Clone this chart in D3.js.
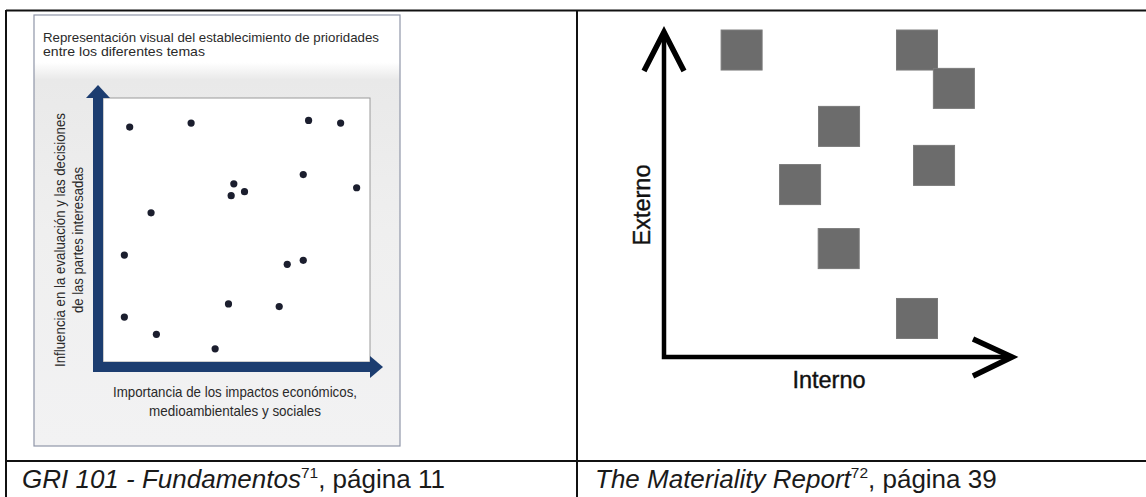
<!DOCTYPE html>
<html><head><meta charset="utf-8">
<script src="https://cdn.jsdelivr.net/npm/d3@7"></script>
<style>html,body{margin:0;padding:0;background:#fff;overflow:hidden} svg{display:block}</style>
</head><body>
<svg id="c" width="1146" height="497"></svg>
<script>
// ---- data: left chart (GRI 101) ----
const griImportance = [1.0, 3.3, 7.7, 8.9, 7.5, 9.5, 4.9, 4.8, 5.3, 1.8, 0.8, 7.5, 6.9, 4.7, 6.6, 0.8, 2.0, 4.2];
const griInfluence  = [8.9, 9.05, 9.15, 9.05, 7.1, 6.6, 6.75, 6.3, 6.45, 5.65, 4.05, 3.85, 3.7, 2.2, 2.1, 1.7, 1.05, 0.5];
const griTitle = ["Representación visual del establecimiento de prioridades", "entre los diferentes temas"];
const griXLabel = ["Importancia de los impactos económicos,", "medioambientales y sociales"];
const griYLabel = ["Influencia en la evaluación y las decisiones", "de las partes interesadas"];
// ---- data: right chart (Materiality Report) ----
const interno = [2.23, 7.27, 8.33, 5.03, 7.76, 3.91, 5.02, 7.27];
const externo = [9.43, 9.43, 8.25, 7.08, 5.88, 5.29, 3.32, 1.17];
const rightXLabel = "Interno";
const rightYLabel = "Externo";
// ---- captions ----
const captions = [
  {ital: "GRI 101 - Fundamentos", sup: "71", rest: ", página 11"},
  {ital: "The Materiality Report", sup: "72", rest: ", página 39"}
];

const svg = d3.select("#c");
const defs = svg.append("defs");
const g1 = defs.append("linearGradient").attr("id","panelBg").attr("x1",0).attr("y1",0).attr("x2",0).attr("y2",1);
g1.append("stop").attr("offset","0").attr("stop-color","#ffffff");
g1.append("stop").attr("offset","0.11").attr("stop-color","#ffffff");
g1.append("stop").attr("offset","0.15").attr("stop-color","#e9e9e9");
g1.append("stop").attr("offset","0.5").attr("stop-color","#efefef");
g1.append("stop").attr("offset","1").attr("stop-color","#f2f2f3");

// ---------- table frame ----------
const frame = svg.append("g").attr("stroke","#111").attr("stroke-width",2).attr("fill","none");
frame.append("line").attr("x1",6).attr("x2",1146).attr("y1",10.5).attr("y2",10.5);
frame.append("line").attr("x1",6).attr("x2",1146).attr("y1",461).attr("y2",461);
frame.append("line").attr("x1",6).attr("x2",6).attr("y1",10).attr("y2",497);
frame.append("line").attr("x1",577).attr("x2",577).attr("y1",10).attr("y2",497);

// ---------- left panel ----------
const panel = {x0:34, x1:400, y0:15, y1:446};
svg.append("rect").attr("x",panel.x0).attr("y",panel.y0)
  .attr("width",panel.x1-panel.x0).attr("height",panel.y1-panel.y0)
  .attr("fill","url(#panelBg)").attr("stroke","#8f96a8").attr("stroke-width",1.2);

const xL = d3.scaleLinear().domain([0,10]).range([103,370]);
const yL = d3.scaleLinear().domain([0,10]).range([362,98]);

// inner white plot box
svg.append("rect").attr("x",xL(0)).attr("y",yL(10))
  .attr("width",xL(10)-xL(0)).attr("height",yL(0)-yL(10))
  .attr("fill","#fff").attr("stroke","#9a9a9a").attr("stroke-width",1);

const navy = "#1c3d70";
// vertical blue arrow
svg.append("rect").attr("x",xL(0)-10).attr("y",yL(10)).attr("width",10).attr("height",yL(0)-yL(10)+10).attr("fill",navy);
svg.append("path").attr("fill",navy)
  .attr("d",`M${xL(0)-17},${yL(10)} L${xL(0)-5},${yL(10)-13} L${xL(0)+7},${yL(10)} Z`);
// horizontal blue arrow
svg.append("rect").attr("x",xL(0)-10).attr("y",yL(0)).attr("width",xL(10)-xL(0)+10).attr("height",10).attr("fill",navy);
svg.append("path").attr("fill",navy)
  .attr("d",`M${xL(10)},${yL(0)-6} L${xL(10)+13},${yL(0)+5} L${xL(10)},${yL(0)+16} Z`);

// dots
svg.append("g").selectAll("circle").data(griImportance).join("circle")
  .attr("cx",(d)=>xL(d)).attr("cy",(d,i)=>yL(griInfluence[i])).attr("r",3.6)
  .attr("fill","#1b1e2e");

const condensed = "'Liberation Sans Narrow', 'Liberation Sans', Arial, sans-serif";
// title
const tl = [336, 162];
svg.append("g").selectAll("text").data(griTitle).join("text")
  .attr("x",43).attr("y",(d,i)=>42+i*14)
  .attr("font-family",condensed).attr("font-size",13.5).attr("fill","#2a2a2a")
  .attr("textLength",(d,i)=>tl[i]).attr("lengthAdjust","spacingAndGlyphs")
  .text(d=>d);
// x label
const xl = [244, 172];
svg.append("g").selectAll("text").data(griXLabel).join("text")
  .attr("x",235).attr("y",(d,i)=>397+i*18.5).attr("text-anchor","middle")
  .attr("font-family",condensed).attr("font-size",14.5).attr("fill","#2a2a2a")
  .attr("textLength",(d,i)=>xl[i]).attr("lengthAdjust","spacingAndGlyphs")
  .text(d=>d);
// y label
const yl = [254, 146];
svg.append("g").selectAll("text").data(griYLabel).join("text")
  .attr("transform",(d,i)=>`translate(${65+i*18},240) rotate(-90)`)
  .attr("text-anchor","middle")
  .attr("font-family",condensed).attr("font-size",14.5).attr("fill","#2a2a2a")
  .attr("textLength",(d,i)=>yl[i]).attr("lengthAdjust","spacingAndGlyphs")
  .text(d=>d);

// ---------- right chart ----------
const xR = d3.scaleLinear().domain([0,10]).range([664,1012]);
const yR = d3.scaleLinear().domain([0,10]).range([357,32]);
const sq = 41;
svg.append("g").selectAll("rect").data(interno).join("rect")
  .attr("x",d=>xR(d)-sq/2).attr("y",(d,i)=>yR(externo[i])-sq/2)
  .attr("width",sq).attr("height",sq-1)
  .attr("fill","#6c6c6c").attr("stroke","#7a7a7a").attr("stroke-width",1);

const ax = svg.append("g").attr("stroke","#000").attr("fill","none").attr("stroke-linecap","butt");
ax.append("path").attr("stroke-width",4.5)
  .attr("d",`M${xR(0)},${yR(10)+3} L${xR(0)},${yR(0)} L${xR(10)-3},${yR(0)}`);
ax.append("path").attr("stroke-width",5.5).attr("stroke-linejoin","miter")
  .attr("d",`M${xR(0)-20},${yR(10)+39} L${xR(0)},${yR(10)} L${xR(0)+20},${yR(10)+39}`);
ax.append("path").attr("stroke-width",5.5).attr("stroke-linejoin","miter")
  .attr("d",`M${xR(10)-39},${yR(0)-18} L${xR(10)},${yR(0)} L${xR(10)-39},${yR(0)+19}`);

svg.append("text").attr("x",829).attr("y",388).attr("text-anchor","middle")
  .attr("font-family","'Liberation Sans', Arial, sans-serif").attr("font-size",23.5)
  .attr("fill","#111").attr("stroke","#111").attr("stroke-width",0.4).text(rightXLabel);
svg.append("text").attr("transform","translate(650,205) rotate(-90)").attr("text-anchor","middle")
  .attr("font-family","'Liberation Sans', Arial, sans-serif").attr("font-size",23.5)
  .attr("fill","#111").attr("stroke","#111").attr("stroke-width",0.4).text(rightYLabel);

// ---------- captions ----------
const capX = [22, 595];
captions.forEach((c,i)=>{
  const t = svg.append("text").attr("x",capX[i]).attr("y",488)
    .attr("font-family","'Liberation Sans', Arial, sans-serif").attr("font-size",26).attr("fill","#1a1a1a");
  t.append("tspan").attr("font-style","italic").text(c.ital);
  t.append("tspan").attr("font-size",15.5).attr("dy",-10).text(c.sup);
  t.append("tspan").attr("dy",10).text(c.rest);
});
</script>
</body></html>
